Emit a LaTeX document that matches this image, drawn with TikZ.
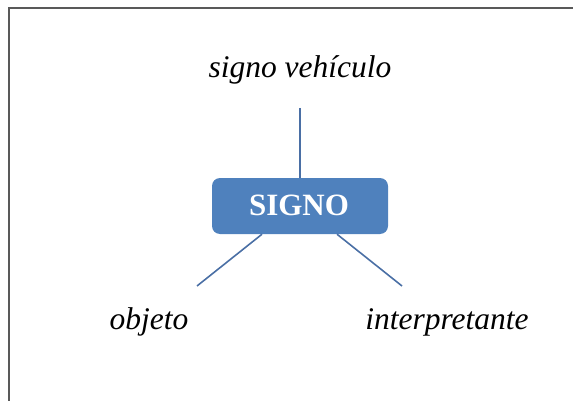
\documentclass[tikz,border=0pt]{standalone}
\usepackage{fontspec}
\setmainfont{Liberation Serif}
\definecolor{boxblue}{HTML}{4F81BD}
\definecolor{lineblue}{HTML}{4A6FA5}
\begin{document}
\begin{tikzpicture}[x=1pt,y=-1pt,
  lbl/.style={font=\fontsize{31.5}{36}\selectfont\itshape, anchor=base, inner sep=0pt},
  signobox/.style={fill=boxblue, rounded corners=8pt, minimum width=176pt, minimum height=56pt, inner sep=0pt},
  conn/.style={draw=lineblue, line width=1.6pt}]
\useasboundingbox (0,0) rectangle (573,401);
\draw[gray!70!black, line width=1.2pt] (9,401) -- (9,8) -- (573,8);
\node[signobox] (s) at (300,206) {};
\node[font=\fontsize{31}{36}\selectfont\bfseries, text=white, anchor=base, inner sep=0pt] (st) at (299,215) {SIGNO};
\node[lbl] (v) at (300,78) {signo vehículo};
\node[lbl] (o) at (149,329) {objeto};
\node[lbl] (i) at (447,329) {interpretante};
\coordinate (vt) at (300,108);
\coordinate (ol) at (197,286);
\coordinate (ir) at (402,286);
\draw[conn] (vt) -- (s.north);
\draw[conn] (s.south -| 262,0) -- (ol);
\draw[conn] (s.south -| 337,0) -- (ir);
\end{tikzpicture}
\end{document}
